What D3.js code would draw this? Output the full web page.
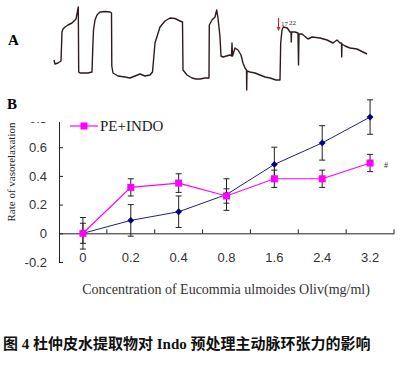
<!DOCTYPE html>
<html>
<head>
<meta charset="utf-8">
<script src="https://cdn.jsdelivr.net/npm/d3@7"></script>
<style>
  body { margin: 0; background: #fff; }
  svg { display: block; }
</style>
</head>
<body>
<div id="chart"></div>
<script>
// panel A: tension trace (time, tension in arbitrary units)
var traceT = [0, 1, 4, 7, 8, 9, 11, 14, 18, 22, 24.3, 24.7, 26, 34, 38, 38.7, 39.5, 41, 43, 46, 51, 56, 57.5, 57.8,
  59, 64, 71, 76, 81, 86, 91, 96, 98.5, 101, 106, 111, 116, 121, 126, 128.5, 129, 133, 138, 142, 146, 151, 155,
  155.3, 158, 161, 162.7, 164, 166, 167, 169, 176, 177.5, 178, 178.5, 181, 184, 187, 189, 191, 192.5, 192.7, 193,
  196, 201, 206, 211, 216, 222, 226, 226.7, 228, 229.3, 233.3, 236, 237, 237.3, 237.6, 241, 244, 244.5, 245, 248,
  254, 258, 266, 273, 279, 283, 286, 287.5, 287.7, 288, 291, 296, 303, 309, 313];
var traceV = [20, 16, 17, 19, 48, 51, 53, 55, 57, 61, 73, 8, 7, 7, 8, 30, 50, 60, 65, 68, 68.5, 68, 67, 14,
  7, 4, 3, 2, 4, 6, 4, 5, 8, 37, 53, 59, 62, 61.5, 59, 58, 10, 5, 2, 1, 1, 2, 2,
  55, 60, 63, 70, 62, 43, 24, 23, 25, 24, 37, 24, 32, 30, 25, 17, 12, 10, -10, 9,
  8, 7, 5, 3, 2, 0, 0, 37, 50, 53, 52, 48, 48, 38, 48, 48, 47, 15, 46, 46,
  41, 43, 42, 40, 37, 40, 37, 37, 23, 36, 34, 32, 31, 28, 26];

// panel B
var categories = ["0", "0.2", "0.4", "0.8", "1.6", "2.4", "3.2"];
var ctrlMean = [0, 0.09, 0.15, 0.27, 0.48, 0.63, 0.81];
var ctrlErr = [0.11, 0.11, 0.11, 0.11, 0.12, 0.12, 0.12];
var indoMean = [0, 0.32, 0.35, 0.26, 0.38, 0.38, 0.49];
var indoErr = [0.07, 0.06, 0.065, 0.05, 0.06, 0.06, 0.06];
var yTicks = [-0.2, 0, 0.2, 0.4, 0.6, 0.8];

var W = 403, H = 366;
var svg = d3.select("#chart").append("svg").attr("width", W).attr("height", H);

var serif = "'Times New Roman', 'Liberation Serif', serif";
var sans = "Arial, 'Liberation Sans', sans-serif";

// ---- panel A
svg.append("text").attr("x", 8).attr("y", 45).text("A")
  .style("font-family", serif).style("font-weight", "bold").style("font-size", "15px");

var xA = d3.scaleLinear().domain([0, 313]).range([54, 367]);
var yA = d3.scaleLinear().domain([0, 72]).range([80, 8]);

var pts = traceT.map(function(t, i) { return [t, traceV[i]]; });
svg.append("path")
  .datum(pts)
  .attr("fill", "none")
  .attr("stroke", "#2e1c1c")
  .attr("stroke-width", 1.4)
  .attr("stroke-linejoin", "round")
  .attr("d", d3.line().x(function(d) { return xA(d[0]); }).y(function(d) { return yA(d[1]); }));

// drug marker
svg.append("line").attr("x1", xA(224.5)).attr("x2", xA(224.5)).attr("y1", yA(62)).attr("y2", yA(51))
  .attr("stroke", "#d22").attr("stroke-width", 1);
svg.append("path").attr("d", "M" + (xA(224.5) - 2) + "," + yA(53) + "l2,4l2,-4z").attr("fill", "#d22");
svg.append("text").attr("x", xA(227)).attr("y", yA(54)).text("17")
  .style("font-family", serif).style("font-size", "7px").attr("fill", "#222");
svg.append("text").attr("x", xA(235)).attr("y", yA(55)).text("22")
  .style("font-family", serif).style("font-size", "7px").attr("fill", "#222");

// ---- panel B
svg.append("text").attr("x", 7).attr("y", 109).text("B")
  .style("font-family", serif).style("font-weight", "bold").style("font-size", "15px");

var x = d3.scaleBand().domain(categories).range([59, 394]).padding(0);
var y = d3.scaleLinear().domain([-0.2, 0.8]).range([262, 118.5]);
var cx = function(i) { return x(categories[i]) + x.bandwidth() / 2; };

// top of the y axis is cut off in the original figure
svg.append("clipPath").attr("id", "topcut")
  .append("rect").attr("x", -60).attr("y", 122).attr("width", 70).attr("height", 200);

var yAxis = svg.append("g")
  .attr("transform", "translate(59,0)")
  .attr("clip-path", "url(#topcut)")
  .call(d3.axisLeft(y).tickValues(yTicks).tickSizeInner(-4).tickSizeOuter(0).tickPadding(12)
    .tickFormat(function(d) { return d === 0 ? "0" : (d < 0 ? "-" : "") + Math.abs(d).toFixed(1); }));
yAxis.select(".domain").attr("stroke", "#222");
yAxis.selectAll(".tick line").attr("stroke", "#222");
yAxis.selectAll("text").style("font-family", sans).style("font-size", "13px").attr("fill", "#333");

var xAxis = svg.append("g")
  .attr("transform", "translate(0," + y(0) + ")")
  .call(d3.axisBottom(x).tickSize(0).tickPadding(19));
xAxis.select(".domain").attr("stroke", "#222");
xAxis.selectAll("text").style("font-family", sans).style("font-size", "13px").attr("fill", "#333");
xAxis.selectAll(".bnd")
  .data(categories.slice(1).concat(["end"]))
  .enter().append("line")
  .attr("x1", function(d) { return d === "end" ? x.range()[1] : x(d); })
  .attr("x2", function(d) { return d === "end" ? x.range()[1] : x(d); })
  .attr("y1", 0).attr("y2", -4)
  .attr("stroke", "#222");

// error bars
function errBars(mean, err) {
  var g = svg.append("g").attr("stroke", "#222").attr("stroke-width", 1);
  mean.forEach(function(m, i) {
    var xc = cx(i);
    g.append("line").attr("x1", xc).attr("x2", xc).attr("y1", y(m - err[i])).attr("y2", y(m + err[i]));
    g.append("line").attr("x1", xc - 3).attr("x2", xc + 3).attr("y1", y(m - err[i])).attr("y2", y(m - err[i]));
    g.append("line").attr("x1", xc - 3).attr("x2", xc + 3).attr("y1", y(m + err[i])).attr("y2", y(m + err[i]));
  });
}
errBars(ctrlMean, ctrlErr);
errBars(indoMean, indoErr);

var line = d3.line().x(function(d, i) { return cx(i); }).y(function(d) { return y(d); });

svg.append("path").datum(ctrlMean).attr("fill", "none").attr("stroke", "#20207f").attr("stroke-width", 1).attr("d", line);
svg.selectAll(".dia").data(ctrlMean).enter().append("path")
  .attr("d", d3.symbol().type(d3.symbolDiamond2).size(30))
  .attr("transform", function(d, i) { return "translate(" + cx(i) + "," + y(d) + ")"; })
  .attr("fill", "#000080");

svg.append("path").datum(indoMean).attr("fill", "none").attr("stroke", "#ff00ff").attr("stroke-width", 1.2).attr("d", line);
svg.selectAll(".sq").data(indoMean).enter().append("rect")
  .attr("x", function(d, i) { return cx(i) - 3.5; })
  .attr("y", function(d) { return y(d) - 3.5; })
  .attr("width", 7).attr("height", 7)
  .attr("fill", "#ff00ff");

svg.append("text").attr("x", cx(6) + 14).attr("y", y(0.47) + 2).text("#")
  .style("font-family", serif).style("font-size", "8px").attr("fill", "#333");

// legend
svg.append("line").attr("x1", 70).attr("x2", 98).attr("y1", 126).attr("y2", 126).attr("stroke", "#ff00ff").attr("stroke-width", 1.2);
svg.append("rect").attr("x", 80.5).attr("y", 122.5).attr("width", 7).attr("height", 7).attr("fill", "#ff00ff");
svg.append("text").attr("x", 100).attr("y", 131).text("PE+INDO")
  .style("font-family", serif).style("font-size", "15px").attr("fill", "#222");

// axis titles
svg.append("text").attr("transform", "translate(15,172) rotate(-90)").attr("text-anchor", "middle")
  .text("Rate of vasorelaxation")
  .style("font-family", serif).style("font-size", "11px").attr("fill", "#222");
svg.append("text").attr("x", 226).attr("y", 294).attr("text-anchor", "middle")
  .text("Concentration of Eucommia ulmoides Oliv(mg/ml)")
  .style("font-family", serif).style("font-size", "14px").attr("fill", "#333");

// caption
svg.append("text").attr("x", 3).attr("y", 349)
  .text("图 4 杜仲皮水提取物对 Indo 预处理主动脉环张力的影响")
  .style("font-family", "'Times New Roman', 'Liberation Serif', 'Noto Sans CJK SC', serif")
  .style("font-weight", "bold").style("font-size", "15px").attr("fill", "#111");
</script>
</body>
</html>
